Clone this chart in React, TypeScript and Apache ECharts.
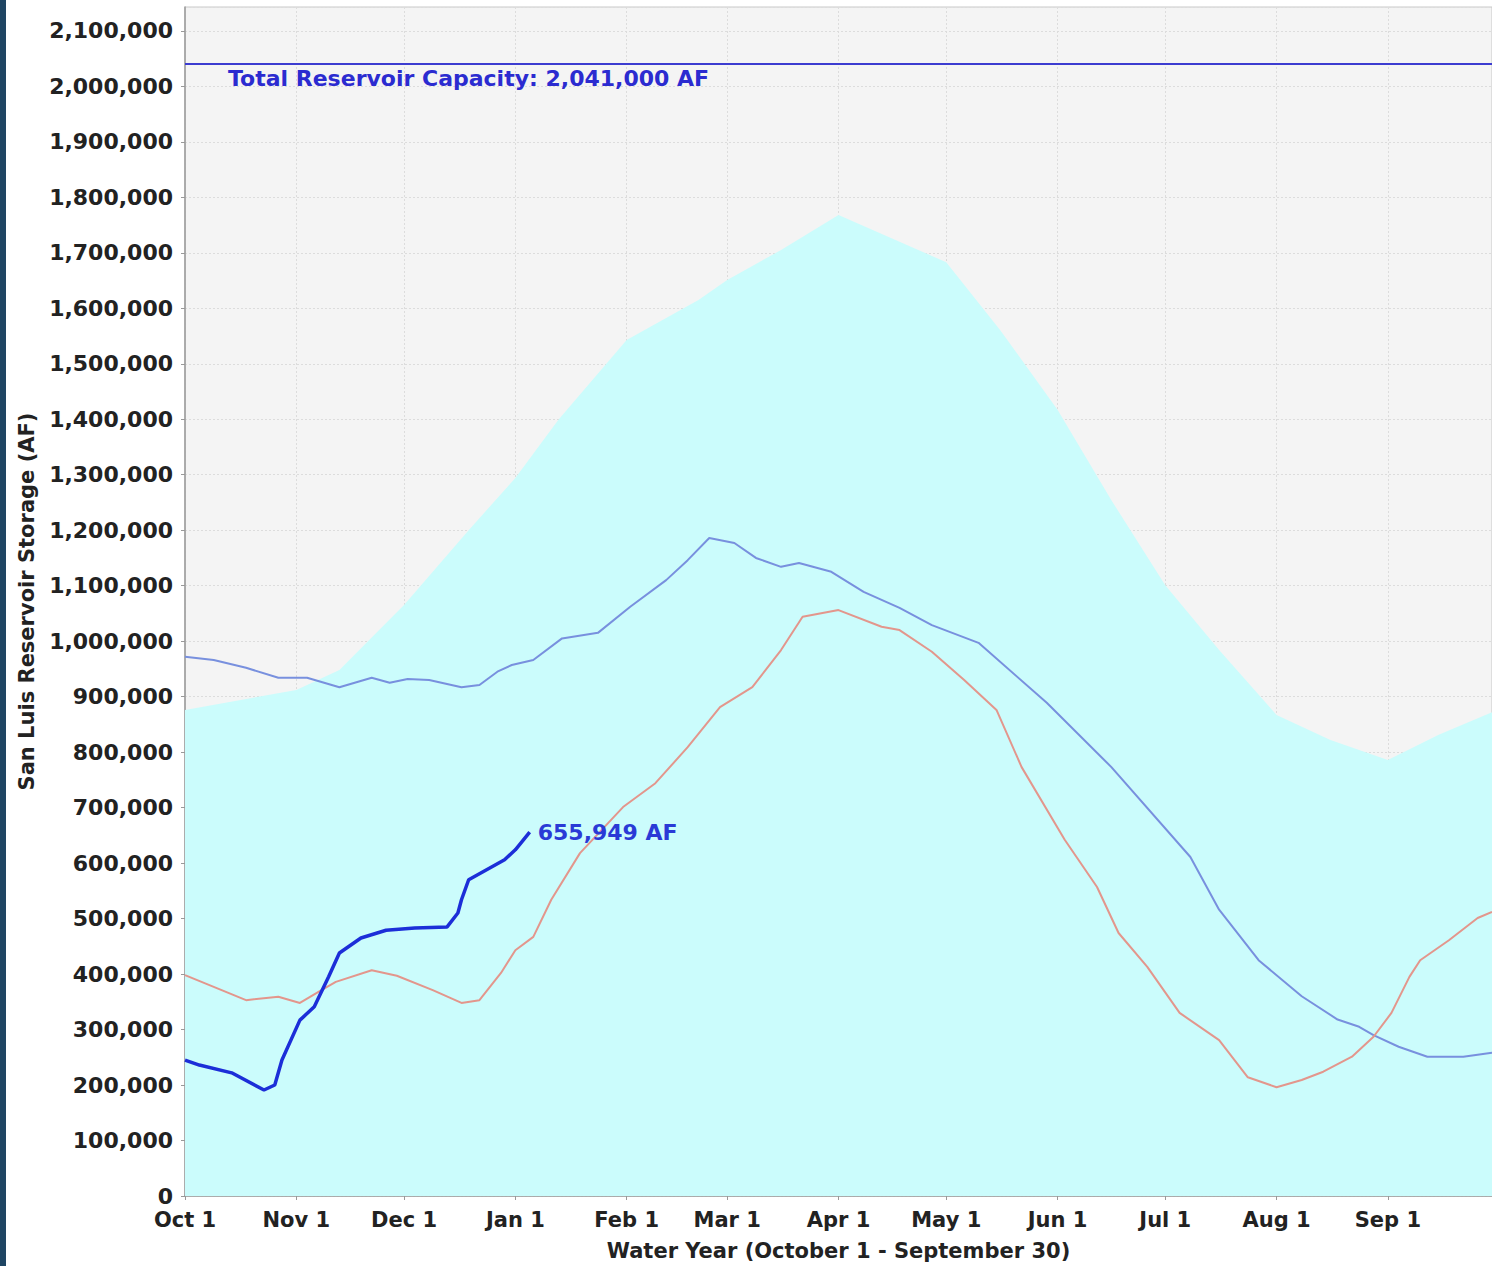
import React, { useEffect, useRef } from "react";
import * as echarts from "echarts";

// Day index from Oct 1 (0) to Sep 30 (364)
const monthDays = [0, 31, 61, 92, 123, 151, 182, 212, 243, 273, 304, 335];
const monthLabels = ["Oct 1", "Nov 1", "Dec 1", "Jan 1", "Feb 1", "Mar 1", "Apr 1", "May 1", "Jun 1", "Jul 1", "Aug 1", "Sep 1"];

// Historical envelope (cyan area) [day, AF]
const envelope: [number, number][] = [
  [0, 876000], [31, 912000], [43, 948000], [61, 1065000], [79, 1200000], [92, 1294000],
  [104, 1399000], [123, 1543000], [143, 1615000], [151, 1651000], [166, 1705000], [182, 1768000],
  [212, 1683000], [227, 1561000], [243, 1417000], [258, 1254000], [273, 1101000], [288, 984000],
  [304, 867000], [319, 822000], [335, 786000], [349, 831000], [364, 872000],
];

// Average storage (light blue line)
const average: [number, number][] = [
  [0, 972000], [8, 966000], [17, 952000], [26, 934000], [34, 934000], [43, 917000], [52, 934000],
  [57, 925000], [62, 932000], [68, 930000], [77, 917000], [82, 921000], [87, 945000], [91, 957000],
  [97, 966000], [105, 1005000], [115, 1015000], [124, 1062000], [134, 1110000], [140, 1146000],
  [146, 1186000], [153, 1177000], [159, 1150000], [166, 1134000], [171, 1141000], [180, 1125000],
  [189, 1089000], [199, 1060000], [208, 1029000], [221, 997000], [240, 889000], [258, 773000],
  [280, 611000], [288, 516000], [299, 425000], [311, 360000], [321, 318000], [327, 305000],
  [331, 290000], [338, 269000], [346, 251000], [356, 251000], [364, 258000],
];

// Prior year (salmon line)
const priorYear: [number, number][] = [
  [0, 398000], [8, 377000], [17, 353000], [26, 359000], [32, 348000], [38, 371000], [42, 386000],
  [52, 407000], [59, 397000], [69, 371000], [77, 348000], [82, 353000], [88, 402000], [92, 443000],
  [97, 467000], [102, 534000], [110, 618000], [122, 701000], [131, 744000], [140, 809000],
  [149, 881000], [158, 917000], [166, 984000], [172, 1044000], [182, 1056000], [194, 1026000],
  [199, 1020000], [208, 981000], [217, 930000], [226, 876000], [233, 773000], [245, 642000],
  [254, 557000], [260, 474000], [268, 413000], [277, 330000], [288, 281000], [296, 214000],
  [304, 196000], [311, 209000], [317, 224000], [325, 251000], [331, 287000], [336, 330000],
  [341, 395000], [344, 425000], [352, 461000], [360, 501000], [364, 512000],
];

// Current water year (dark blue line)
const currentYear: [number, number][] = [
  [0, 245000], [4, 236000], [13, 222000], [22, 191000], [25, 200000], [27, 245000], [32, 317000],
  [36, 341000], [40, 395000], [43, 438000], [49, 465000], [56, 479000], [64, 483000], [73, 485000],
  [76, 510000], [77, 534000], [79, 570000], [89, 606000], [92, 624000], [96, 655949],
];

const capacity = 2041000;
const capacityLabel = "Total Reservoir Capacity: 2,041,000 AF";
const yTitle = "San Luis Reservoir Storage (AF)";
const xTitle = "Water Year (October 1 - September 30)";

const FONT = "DejaVu Sans";

export default function App() {
  const ref = useRef<HTMLDivElement>(null);
  useEffect(() => {
    document.body.style.margin = "0";
    if (!ref.current) return;
    const chart = echarts.init(ref.current, null, { renderer: "svg" });
    const fmt = (v: number) => v.toLocaleString("en-US");
    chart.setOption({
      animation: false,
      backgroundColor: "#ffffff",
      grid: {
        left: 185, right: 0, top: 7, bottom: 70,
        show: true, backgroundColor: "#f4f4f4", borderColor: "#c8c8c8", borderWidth: 1,
      },
      xAxis: {
        type: "value", min: 0, max: 364,
        name: xTitle, nameLocation: "middle", nameGap: 44,
        nameTextStyle: { fontFamily: FONT, fontWeight: "bold", fontSize: 21, color: "#222" },
        axisLine: { show: true, lineStyle: { color: "#9a9a9a", width: 1.5 } },
        axisTick: { show: true, length: 4, customValues: monthDays, lineStyle: { color: "#999" } },
        axisLabel: {
          customValues: monthDays, margin: 13,
          fontFamily: FONT, fontWeight: "bold", fontSize: 21, color: "#222",
          formatter: (v: number) => { const i = monthDays.indexOf(Math.round(v)); return i >= 0 ? monthLabels[i] : ""; },
        },
        splitLine: { show: true, lineStyle: { color: "#dcdcdc", width: 1, type: [2, 2] } },
      },
      yAxis: {
        type: "value", min: 0, max: 2143000, interval: 100000,
        name: yTitle, nameLocation: "middle", nameGap: 148, nameRotate: 90,
        nameTextStyle: { fontFamily: FONT, fontWeight: "bold", fontSize: 21, color: "#222" },
        axisLine: { show: true, lineStyle: { color: "#9a9a9a", width: 1.5 } },
        axisTick: { show: true, length: 4, lineStyle: { color: "#999" } },
        axisLabel: {
          showMaxLabel: false, margin: 12,
          fontFamily: FONT, fontWeight: "bold", fontSize: 22, color: "#222",
          formatter: (v: number) => fmt(v),
        },
        splitLine: { show: true, lineStyle: { color: "#dcdcdc", width: 1, type: [2, 2] } },
      },
      series: [
        {
          name: "Envelope", type: "line", data: envelope, showSymbol: false, symbol: "none",
          lineStyle: { width: 0 }, areaStyle: { color: "#cbfcfc", opacity: 1 }, z: 1,
          markLine: {
            silent: true, symbol: "none",
            lineStyle: { color: "#3c3cd0", width: 2, type: "solid" },
            label: { show: false },
            data: [{ yAxis: capacity }],
          },
        },
        {
          name: "Average", type: "line", data: average, showSymbol: false, symbol: "none",
          lineStyle: { color: "#7890de", width: 2 }, z: 3,
        },
        {
          name: "Prior Year", type: "line", data: priorYear, showSymbol: false, symbol: "none",
          lineStyle: { color: "#e3968c", width: 2 }, z: 3,
        },
        {
          name: "Current Year", type: "line", symbol: "none", showSymbol: false,
          data: currentYear,
          lineStyle: { color: "#1c2ed8", width: 3.5 }, z: 4,
          endLabel: {
            show: true, distance: 8,
            formatter: (p: any) => fmt(p.value[1]) + " AF",
            fontFamily: FONT, fontWeight: "bold", fontSize: 22, color: "#2a3ad6",
          },
        },
      ],
      graphic: [
        { type: "rect", left: 0, top: 0, shape: { width: 6, height: 1266 }, style: { fill: "#1f4563" }, z: 10 },
        {
          type: "text", left: 228, top: 67, z: 10,
          style: { text: capacityLabel, fill: "#2b2bd0", font: `bold 22px "${FONT}"` },
        },
      ],
    });
    return () => chart.dispose();
  }, []);
  return <div ref={ref} style={{ width: 1492, height: 1266 }} />;
}
